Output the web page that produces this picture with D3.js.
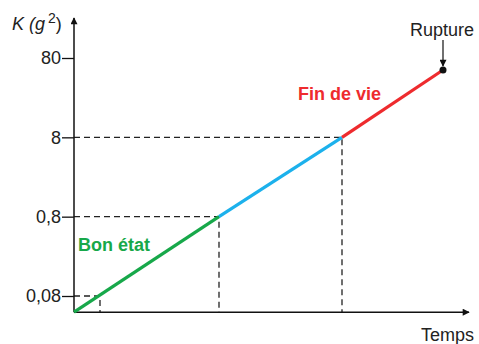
<!DOCTYPE html>
<html>
<head>
<meta charset="utf-8">
<script src="https://cdn.jsdelivr.net/npm/d3@7"></script>
<style>
  body { margin: 0; background: #fff; }
  text { font-family: "Liberation Sans", Arial, sans-serif; }
</style>
</head>
<body>
<div id="chart"></div>
<script>
// K values at the stage boundaries (log scale) and times (arbitrary units)
const yTicks = [0.08, 0.8, 8, 80];
const stageNames = ["Bon état", "", "Fin de vie"];
const stageColors = ["#17a84a", "#1cb1ec", "#ee2b2e"];
const times = [0, 36.25, 67, 92.25];
const kValues = [0.05, 0.8, 8, 56.5];
const markTimes = [6.5, 36.25, 67];
const markK = [0.08, 0.8, 8];

const width = 479, height = 344;
const svg = d3.select("#chart").append("svg")
    .attr("width", width)
    .attr("height", height);

const x = d3.scaleLinear().domain([0, 100]).range([74, 474]);
const y = d3.scaleLog().domain([0.08, 80]).range([296, 58]);
const x0 = x(0), y0 = y(0.05);

svg.append("defs").append("marker")
    .attr("id", "arrow")
    .attr("viewBox", "0 0 10 10")
    .attr("refX", 9).attr("refY", 5)
    .attr("markerWidth", 10).attr("markerHeight", 7)
    .attr("markerUnits", "userSpaceOnUse")
    .attr("orient", "auto")
    .append("path")
    .attr("d", "M0,0L10,5L0,10z")
    .attr("fill", "#111");

// dashed guides
markTimes.forEach(function (t, i) {
    svg.append("path")
        .attr("d", "M" + x0 + "," + y(markK[i]) + "H" + x(t) + "V" + y0)
        .attr("fill", "none")
        .attr("stroke", "#222")
        .attr("stroke-width", 1.3)
        .attr("stroke-dasharray", "6,4");
});

// axes
svg.append("line")
    .attr("x1", x0).attr("y1", y0).attr("x2", x0).attr("y2", 18)
    .attr("stroke", "#111").attr("stroke-width", 1.5)
    .attr("marker-end", "url(#arrow)");
svg.append("line")
    .attr("x1", x0).attr("y1", y0).attr("x2", 469).attr("y2", y0)
    .attr("stroke", "#111").attr("stroke-width", 1.5)
    .attr("marker-end", "url(#arrow)");

const yAxis = svg.append("g")
    .attr("transform", "translate(" + x0 + ",0)")
    .call(d3.axisLeft(y)
        .tickValues(yTicks)
        .tickSize(12)
        .tickPadding(1)
        .tickFormat(d => String(d).replace(".", ",")));
yAxis.select(".domain").remove();
yAxis.selectAll(".tick line").attr("stroke", "#111").attr("stroke-width", 1.3);
yAxis.selectAll(".tick text")
    .attr("font-size", 18)
    .attr("fill", "#222")
    .style("font-family", "'Liberation Sans', Arial, sans-serif");

// coloured segments
for (let i = 0; i < 3; i++) {
    svg.append("line")
        .attr("x1", x(times[i])).attr("y1", y(kValues[i]))
        .attr("x2", x(times[i + 1])).attr("y2", y(kValues[i + 1]))
        .attr("stroke", stageColors[i])
        .attr("stroke-width", 3.2);
}

// rupture point
const xr = x(times[3]), yr = y(kValues[3]);
svg.append("circle").attr("cx", xr).attr("cy", yr).attr("r", 3.5).attr("fill", "#111");
svg.append("line")
    .attr("x1", xr).attr("y1", 40).attr("x2", xr).attr("y2", yr - 4)
    .attr("stroke", "#111").attr("stroke-width", 1.2)
    .attr("marker-end", "url(#arrow)");

// labels
svg.append("text").attr("x", 442).attr("y", 36)
    .attr("text-anchor", "middle").attr("font-size", 18).attr("fill", "#222")
    .text("Rupture");
svg.append("text").attr("x", 298).attr("y", 100)
    .attr("font-size", 18).attr("font-weight", "bold").attr("fill", stageColors[2])
    .text(stageNames[2]);
svg.append("text").attr("x", 78).attr("y", 251)
    .attr("font-size", 18).attr("font-weight", "bold").attr("fill", stageColors[0])
    .text(stageNames[0]);
svg.append("text").attr("x", 474).attr("y", 341)
    .attr("text-anchor", "end").attr("font-size", 18).attr("fill", "#222")
    .text("Temps");

const kLabel = svg.append("text").attr("x", 12).attr("y", 30)
    .attr("font-size", 18).attr("fill", "#222").attr("font-style", "italic");
kLabel.append("tspan").text("K (");
kLabel.append("tspan").text("g");
kLabel.append("tspan").attr("dx", 3).attr("dy", -7).attr("font-size", 14).attr("font-style", "normal").text("2");
kLabel.append("tspan").attr("dy", 7).attr("font-style", "normal").text(")");
</script>
</body>
</html>
